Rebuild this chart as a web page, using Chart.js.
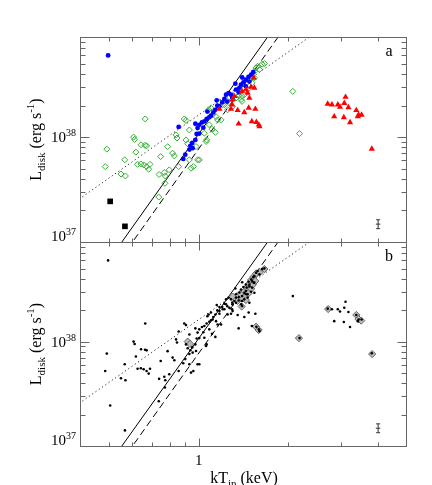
<!DOCTYPE html>
<html>
<head>
<meta charset="utf-8">
<script src="https://cdn.jsdelivr.net/npm/chart.js@4.4.0/dist/chart.umd.min.js"></script>
<style>
  html, body { margin: 0; padding: 0; background: #fff; }
  #wrap { position: relative; width: 432px; height: 485px; }
  #wrap canvas { position: absolute; left: 0; top: 0; }
</style>
</head>
<body>
<div id="wrap">
  <canvas id="chartA" width="432" height="485"></canvas>
  <canvas id="chartB" width="432" height="485"></canvas>
</div>
<script>
// kT_in (keV) and L_disk (erg/s)
const blueT = [0.497, 0.857, 0.888, 0.902, 0.931, 0.955, 0.952, 0.975, 0.985, 0.992, 0.975, 1.005, 1.026, 1.045, 1.064, 1.086, 1.10, 1.12, 1.138, 1.15, 1.174, 1.2, 1.22, 1.236, 1.26, 1.284, 1.335, 1.37, 1.387, 1.413, 1.44, 1.47, 1.5, 1.525, 1.363, 1.44, 1.297, 1.248, 1.155, 1.07, 1.328, 1.4, 1.48, 1.037, 1.005, 0.938];
const blueL = [6.0e38, 1.25e38, 6.2e37, 6.8e37, 7.6e37, 7.85e37, 8.8e37, 9.4e37, 1.07e38, 1.22e38, 1.34e38, 1.31e38, 1.38e38, 1.41e38, 1.49e38, 1.55e38, 1.6e38, 1.72e38, 1.82e38, 2.24e38, 1.96e38, 2.14e38, 2.31e38, 2.54e38, 2.63e38, 2.54e38, 2.84e38, 2.95e38, 3.16e38, 3.33e38, 3.53e38, 3.74e38, 3.94e38, 4.15e38, 2.67e38, 3.05e38, 2.37e38, 2.18e38, 1.99e38, 1.75e38, 3.23e38, 3.7e38, 3.38e38, 1.23e38, 1.08e38, 8.26e37];

const greenT = [0.492, 0.486, 0.549, 0.568, 0.565, 0.605, 0.61, 0.616, 0.641, 0.661, 0.669, 0.662, 0.624, 0.64, 0.654, 0.669, 0.68, 0.687, 0.746, 0.735, 0.737, 0.767, 0.773, 0.771, 0.787, 0.797, 0.818, 0.829, 0.84, 0.846, 0.857, 0.895, 0.907, 0.907, 0.919, 0.931, 0.931, 0.943, 0.96, 0.98, 0.992, 1.005, 1.059, 1.045, 1.064, 1.086, 1.109, 1.138, 1.08, 1.1, 1.114, 1.144, 1.158, 1.189, 1.174, 1.204, 1.22, 1.236, 1.251, 1.268, 1.3, 1.3, 1.335, 1.335, 1.362, 1.388, 1.398, 1.398, 1.423, 1.423, 1.449, 1.46, 1.48, 1.511, 1.511, 1.538, 1.538, 1.558, 1.577, 1.599, 1.633, 1.662, 2.07, 2.18];
const greenL = [7.68e37, 5.23e37, 4.45e37, 4.26e37, 6.07e37, 1.0e38, 9.5e37, 7.19e37, 8.44e37, 8.35e37, 8.25e37, 1.49e38, 5.5e37, 5.55e37, 5.43e37, 5.23e37, 4.94e37, 5.5e37, 6.52e37, 2.68e37, 4.4e37, 4.6e37, 4.26e37, 3.63e37, 8.1e37, 4.87e37, 7.03e37, 6.62e37, 1.05e38, 9.8e37, 5.23e37, 1.49e38, 1.44e38, 9.4e37, 8.63e37, 1.17e38, 6.07e37, 5.05e37, 5.23e37, 8.13e37, 6.07e37, 6.07e37, 9.08e37, 1.09e38, 9.4e37, 1.31e38, 1.19e38, 1.11e38, 1.82e38, 1.9e38, 1.63e38, 1.57e38, 1.46e38, 1.46e38, 2.14e38, 2.04e38, 2.04e38, 2.28e38, 1.82e38, 2.11e38, 1.96e38, 2.28e38, 2.64e38, 2.36e38, 2.48e38, 2.28e38, 2.19e38, 2.45e38, 2.94e38, 2.54e38, 3.29e38, 2.84e38, 3.53e38, 3.8e38, 3.29e38, 4.24e38, 3.67e38, 4.57e38, 4.74e38, 4.41e38, 4.95e38, 5.03e38, 2.73e38, 1.08e38];

const redT = [1.174, 1.284, 1.352, 1.423, 1.472, 1.55, 1.362, 1.508, 1.562, 1.592, 1.6, 1.3, 1.318, 1.398, 1.442, 1.46, 1.48, 1.499, 1.53, 1.538, 1.295, 2.71, 2.80, 2.93, 2.98, 3.11, 3.08, 3.18, 2.85, 3.07, 3.22, 3.38, 3.44, 3.52, 3.42, 3.81];
const redL = [1.85e38, 1.85e38, 1.8e38, 1.72e38, 1.9e38, 1.85e38, 1.34e38, 1.41e38, 1.39e38, 1.31e38, 1.26e38, 2.28e38, 2.45e38, 2.73e38, 2.84e38, 2.64e38, 2.36e38, 3.0e38, 3.67e38, 2.94e38, 2.04e38, 2.07e38, 2.04e38, 2.04e38, 1.94e38, 2.41e38, 2.11e38, 1.92e38, 1.57e38, 1.54e38, 1.38e38, 1.8e38, 1.63e38, 1.63e38, 1.57e38, 7.73e37];

const squareT = [0.505, 0.566];
const squareL = [2.44e37, 1.41e37];

// points circled with a diamond in panel b
const markedT = [1.662, 2.72, 3.38, 3.44, 3.51, 1.558, 1.59, 2.17, 3.82, 0.919, 0.936, 1.3, 1.394, 1.42, 1.45, 1.48, 1.5, 1.53, 1.56, 1.6, 1.47, 1.5, 1.4, 1.44, 1.52, 1.55, 1.38, 1.35];
const markedL = [4.95e38, 2.05e38, 1.8e38, 1.64e38, 1.59e38, 1.39e38, 1.29e38, 1.08e38, 7.6e37, 1.0e38, 9.5e37, 2.7e38, 2.17e38, 3.0e38, 3.3e38, 3.6e38, 3.9e38, 4.2e38, 4.5e38, 4.6e38, 2.9e38, 3.2e38, 2.6e38, 2.5e38, 3.5e38, 3.8e38, 2.85e38, 2.45e38];

// reference lines (end points)
const solidT = [0.5, 1.8];
const solidL = [6.7e36, 1.12e39];
const dashT = [0.55, 2.0];
const dashL = [7.06e36, 1.235e39];
const dotT = [0.35, 3.0];
const dotL = [1.99e37, 1.46e39];

// typical error bar: [low, centre, high]
const errT = [3.93, 4.0, 4.07];
const errL = [1.34e37, 1.48e37, 1.63e37];

const xMajor = [1];
const xMinor = [0.5, 0.6, 0.7, 0.8, 0.9, 2, 3, 4];
const xTickLabels = ['1'];
const yMajor = [1e37, 1e38];
const yMinor = [2e37, 3e37, 4e37, 5e37, 6e37, 7e37, 8e37, 9e37, 2e38, 3e38, 4e38, 5e38, 6e38, 7e38, 8e38];
const yTickLabels = [['10', '37'], ['10', '38']];

const FAMILY = '"Liberation Serif", "Times New Roman", serif';

const pts = (xs, ys) => xs.map((v, i) => ({ x: v, y: ys[i] }));

function drawRuns(ctx, runs, x, y) {
  runs.forEach(([t, s, dy]) => {
    ctx.font = s + 'px ' + FAMILY;
    ctx.fillText(t, x, y + dy);
    x += ctx.measureText(t).width;
  });
}
function runsWidth(ctx, runs) {
  let w = 0;
  runs.forEach(([t, s]) => { ctx.font = s + 'px ' + FAMILY; w += ctx.measureText(t).width; });
  return w;
}

const axesPlugin = {
  id: 'axesPlugin',
  afterDraw(chart, args, opts) {
    const { ctx, chartArea: a } = chart;
    const sx = chart.scales.x, sy = chart.scales.y;
    const L = Math.round(a.left) + 0.5, R = Math.round(a.right) - 0.5;
    const T = Math.round(a.top) + 0.5, B = Math.round(a.bottom) + 0.5;
    const seg = (x1, y1, x2, y2) => { ctx.beginPath(); ctx.moveTo(x1, y1); ctx.lineTo(x2, y2); ctx.stroke(); };
    ctx.save();
    ctx.strokeStyle = '#666';
    ctx.lineWidth = 1;
    ctx.strokeRect(L, T, R - L, B - T);

    xMinor.concat(xMajor).forEach(v => {
      const len = xMajor.includes(v) ? 8 : 4;
      const px = Math.round(sx.getPixelForValue(v)) + 0.5;
      seg(px, B, px, B - len);
      seg(px, T, px, T + len);
    });
    yMinor.concat(yMajor).forEach(v => {
      const len = yMajor.includes(v) ? 9 : 5;
      const py = Math.round(sy.getPixelForValue(v)) + 0.5;
      seg(L, py, L + len, py);
      seg(R, py, R - len, py);
    });

    // error bar
    ctx.strokeStyle = '#333';
    const ex0 = sx.getPixelForValue(errT[0]), exc = sx.getPixelForValue(errT[1]), ex1 = sx.getPixelForValue(errT[2]);
    const ey0 = sy.getPixelForValue(errL[0]), eyc = sy.getPixelForValue(errL[1]), ey1 = sy.getPixelForValue(errL[2]);
    seg(exc, ey0, exc, ey1);
    seg(ex0, eyc, ex1, eyc);
    seg(exc - 2, ey0, exc + 2, ey0);
    seg(exc - 2, ey1, exc + 2, ey1);

    ctx.fillStyle = '#000';
    ctx.textBaseline = 'alphabetic';
    // y tick labels
    yMajor.forEach((v, i) => {
      const py = sy.getPixelForValue(v);
      const base = v === sy.min ? py - 1 : py + 5;
      const runs = [[yTickLabels[i][0], 15, 0], [yTickLabels[i][1], 10, -6]];
      drawRuns(ctx, runs, 76 - runsWidth(ctx, runs), base);
    });

    // y title (rotated)
    const yRuns = [['L', 16, 0], ['disk', 11, 4], [' (erg s', 16, 0], ['-1', 11, -7], [')', 16, 0]];
    ctx.save();
    ctx.translate(41, (a.top + a.bottom) / 2);
    ctx.rotate(-Math.PI / 2);
    drawRuns(ctx, yRuns, -runsWidth(ctx, yRuns) / 2, 0);
    ctx.restore();

    // panel letter
    ctx.font = '16px ' + FAMILY;
    ctx.textAlign = 'center';
    ctx.fillText(opts.letter, 389, a.top + 19);

    if (opts.xLabels) {
      xMajor.forEach((v, i) => {
        ctx.font = '15px ' + FAMILY;
        ctx.textAlign = 'center';
        ctx.fillText(xTickLabels[i], sx.getPixelForValue(v), a.bottom + 19);
      });
      ctx.textAlign = 'left';
      const xRuns = [['kT', 16, 0], ['in', 11, 4], [' (keV)', 16, 0]];
      drawRuns(ctx, xRuns, 244 - runsWidth(ctx, xRuns) / 2, 483);
    }
    ctx.restore();
  }
};

const lineSets = () => [
  { data: pts(solidT, solidL), showLine: true, borderColor: '#000', borderWidth: 1, pointRadius: 0, order: 9 },
  { data: pts(dashT, dashL), showLine: true, borderColor: '#000', borderWidth: 1, borderDash: [7, 4], pointRadius: 0, order: 9 },
  { data: pts(dotT, dotL), showLine: true, borderColor: '#222', borderWidth: 1, borderDash: [1.2, 2.8], pointRadius: 0, order: 9 }
];

const scales = {
  x: { type: 'logarithmic', min: 0.4, max: 5, display: false },
  y: { type: 'logarithmic', min: 1e37, max: 9e38, display: false }
};

new Chart(document.getElementById('chartA'), {
  type: 'scatter',
  data: {
    datasets: lineSets().concat([
      { data: pts(greenT, greenL), pointStyle: 'rectRot', pointRadius: 3, borderWidth: 1, borderColor: 'rgb(50,175,50)', backgroundColor: 'rgba(255,255,255,0)', order: 4 },
      { data: pts(blueT, blueL), pointStyle: 'circle', pointRadius: 2.4, borderWidth: 0, backgroundColor: '#0000ff', order: 3 },
      { data: pts(redT, redL), pointStyle: 'triangle', pointRadius: 3.6, borderWidth: 0, backgroundColor: '#ff0000', order: 2 },
      { data: pts(squareT, squareL), pointStyle: 'rect', pointRadius: 4, borderWidth: 0, backgroundColor: '#000', order: 1 }
    ])
  },
  options: {
    responsive: false, animation: false, devicePixelRatio: 1, events: [],
    layout: { padding: { left: 80, right: 25, top: 37, bottom: 243 } },
    scales: scales,
    plugins: { legend: { display: false }, tooltip: { enabled: false }, axesPlugin: { letter: 'a', xLabels: false } }
  },
  plugins: [axesPlugin]
});

const allT = blueT.concat(greenT, redT, squareT);
const allL = blueL.concat(greenL, redL, squareL);

new Chart(document.getElementById('chartB'), {
  type: 'scatter',
  data: {
    datasets: lineSets().concat([
      { data: pts(markedT, markedL), pointStyle: 'rectRot', pointRadius: 3.6, borderWidth: 1, borderColor: '#666', backgroundColor: '#bbb', order: 4 },
      { data: pts(allT, allL), pointStyle: 'circle', pointRadius: 1.3, borderWidth: 0, backgroundColor: '#000', order: 1 }
    ])
  },
  options: {
    responsive: false, animation: false, devicePixelRatio: 1, events: [],
    layout: { padding: { left: 80, right: 25, top: 242, bottom: 39 } },
    scales: scales,
    plugins: { legend: { display: false }, tooltip: { enabled: false }, axesPlugin: { letter: 'b', xLabels: true } }
  },
  plugins: [axesPlugin]
});
</script>
</body>
</html>
